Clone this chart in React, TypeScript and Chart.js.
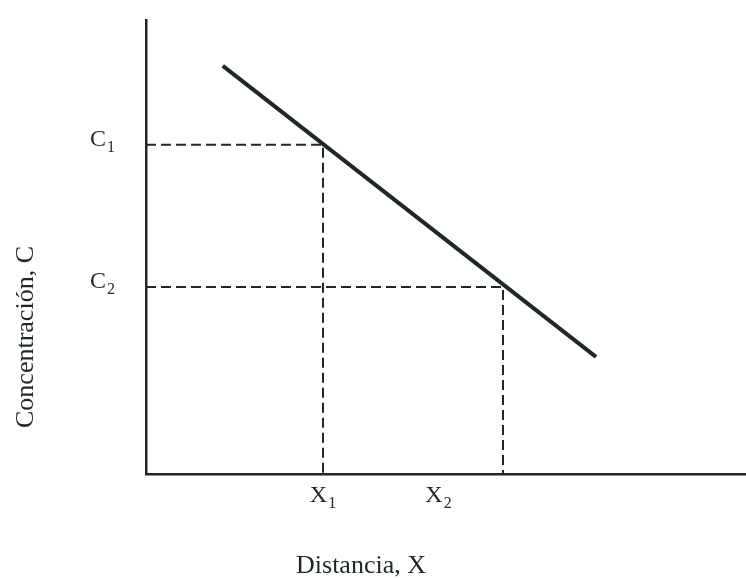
import React, { useEffect, useRef } from "react";
import { Chart, registerables } from "chart.js";

Chart.register(...registerables);

// Concentration profile: C falls linearly with distance X
const lineX = [1.28, 7.5];
const lineC = [8.99, 2.58];

// Reference points
const pointX = [2.95, 5.95];
const pointC = [7.25, 4.12];

// Axis labels: letter + subscript, and where each sits on its axis
const yTickBase = ["C", "C"];
const yTickSub = ["1", "2"];
const xTickBase = ["X", "X"];
const xTickSub = ["1", "2"];
const xTickAt = [2.95, 4.875];

const xTitle = "Distancia, X";
const yTitle = "Concentración, C";

const INK = "#1f2924";
const SERIF = '"Liberation Serif", "Times New Roman", "DejaVu Serif", serif';

const labelsPlugin = {
  id: "subscriptLabels",
  afterDraw(chart: any) {
    const { ctx, chartArea, scales } = chart;
    const xs = scales.x;
    const ys = scales.y;
    ctx.save();
    ctx.fillStyle = INK;
    ctx.textBaseline = "alphabetic";

    const drawSub = (base: string, sub: string, x: number, y: number, align: "left" | "center" | "right") => {
      ctx.font = `24px ${SERIF}`;
      const wb = ctx.measureText(base).width;
      ctx.font = `16px ${SERIF}`;
      const ws = ctx.measureText(sub).width;
      const total = wb + 1 + ws;
      let x0 = x;
      if (align === "center") x0 = x - total / 2;
      if (align === "right") x0 = x - total;
      ctx.textAlign = "left";
      ctx.font = `24px ${SERIF}`;
      ctx.fillText(base, x0, y);
      ctx.font = `16px ${SERIF}`;
      ctx.fillText(sub, x0 + wb + 1, y + 6);
    };

    // C1, C2 beside the vertical axis
    yTickBase.forEach((b, i) => {
      const py = ys.getPixelForValue(pointC[i]);
      drawSub(b, yTickSub[i], chartArea.left - 31, py + 1, "right");
    });

    // X1, X2 under the horizontal axis
    xTickBase.forEach((b, i) => {
      const px = xs.getPixelForValue(xTickAt[i]);
      drawSub(b, xTickSub[i], px, chartArea.bottom + 28, "center");
    });

    // Axis titles
    ctx.font = `26px ${SERIF}`;
    ctx.textAlign = "center";
    ctx.fillText(xTitle, 361, chartArea.bottom + 99);

    ctx.save();
    ctx.translate(33, 337);
    ctx.rotate(-Math.PI / 2);
    ctx.fillText(yTitle, 0, 0);
    ctx.restore();

    ctx.restore();
  },
};

export default function App() {
  const canvasRef = useRef<HTMLCanvasElement | null>(null);

  useEffect(() => {
    const canvas = canvasRef.current;
    if (!canvas) return;

    const profile = lineX.map((x, i) => ({ x, y: lineC[i] }));
    const guide1 = [
      { x: 0, y: pointC[0] },
      { x: pointX[0], y: pointC[0] },
      { x: pointX[0], y: 0 },
    ];
    const guide2 = [
      { x: 0, y: pointC[1] },
      { x: pointX[1], y: pointC[1] },
      { x: pointX[1], y: 0 },
    ];

    const dashed = {
      borderColor: INK,
      borderWidth: 2,
      borderDash: [10, 5],
      pointRadius: 0,
      showLine: true,
      fill: false,
      tension: 0,
    };

    const chart = new Chart(canvas, {
      type: "scatter",
      data: {
        datasets: [
          { ...dashed, data: guide1 },
          { ...dashed, data: guide2 },
          {
            data: profile,
            borderColor: INK,
            borderWidth: 4,
            borderCapStyle: "butt",
            pointRadius: 0,
            showLine: true,
            fill: false,
          },
        ],
      },
      options: {
        responsive: false,
        animation: false,
        devicePixelRatio: 1,
        layout: { padding: { left: 146, top: 20, right: 0, bottom: 106 } },
        plugins: {
          legend: { display: false },
          tooltip: { enabled: false },
        },
        scales: {
          x: {
            type: "linear",
            min: 0,
            max: 10,
            ticks: { display: false },
            grid: { display: false, drawTicks: false, tickLength: 0 },
            border: { display: true, color: INK, width: 2.5 },
          },
          y: {
            type: "linear",
            min: 0,
            max: 10,
            ticks: { display: false },
            grid: { display: false, drawTicks: false, tickLength: 0 },
            border: { display: true, color: INK, width: 2.5 },
          },
        },
      },
      plugins: [labelsPlugin],
    });

    return () => chart.destroy();
  }, []);

  return (
    <div style={{ position: "absolute", left: 0, top: 0, width: 746, height: 580, background: "#ffffff" }}>
      <canvas ref={canvasRef} width={746} height={580} />
    </div>
  );
}
